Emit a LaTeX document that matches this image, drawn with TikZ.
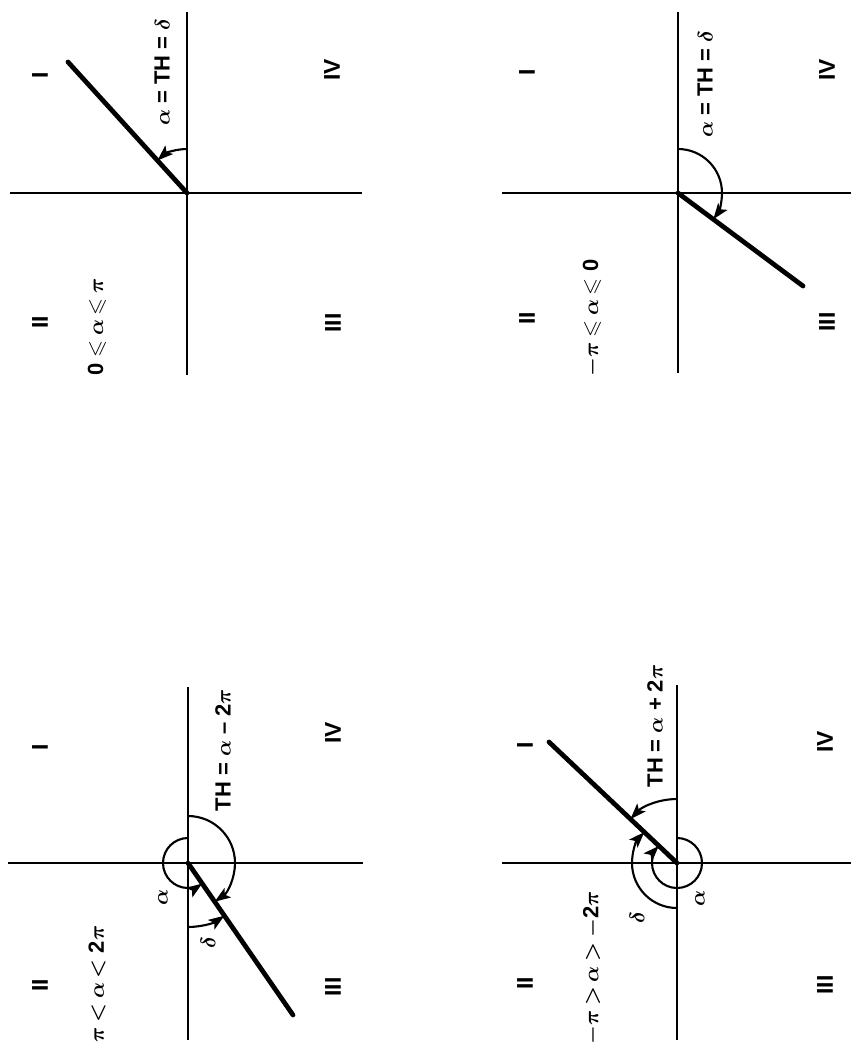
\documentclass[tikz,border=0pt]{standalone}
\usepackage{amsmath, amssymb}
\usepackage{fontspec}
\setsansfont{Liberation Sans}
\usetikzlibrary{arrows.meta}

\begin{document}
\begin{tikzpicture}[x=0.02cm, y=0.02cm,
      ax/.style={line width=1.5pt},
      ray/.style={line width=2.7pt, line cap=round},
      ang/.style={line width=1.2pt, -{Stealth[length=9pt, width=6.5pt, inset=2pt]}},
      qn/.style={rotate=90, font=\sffamily\bfseries\fontsize{13}{15}\selectfont},
      lb/.style={rotate=90, inner sep=1pt, font=\sffamily\bfseries\boldmath\fontsize{12.5}{14}\selectfont,
                 execute at begin node={\thickmuskip=3.5mu\relax}}]
    \useasboundingbox (0,0) rectangle (851,-1046);
    \coordinate (oa) at (187,-193);
    \coordinate (ob) at (678,-193);
    \coordinate (oc) at (188,-863);
    \coordinate (od) at (677,-863);
    % panel a
    \draw[ax] (oa) ++(-177,0) -- ++(352,0);
    \draw[ax] (oa) ++(0,181) -- ++(0,-363);
    \draw[ray] (oa) -- ++(-119,131);
    \draw[ang] (oa) ++(90:44) arc[start angle=90, end angle=132.2, radius=44];
    \node[qn] (a1) at (40,-75)   {I};
    \node[qn] (a2) at (40,-322)  {II};
    \node[qn] (a3) at (333,-323) {III};
    \node[qn] (a4) at (332,-70)  {IV};
    \node[lb] (ath) at (162,-72)  {$\alpha$ = TH = $\delta$};
    \node[lb] (arg) at (97,-327)  {0 $\leqslant \alpha \leqslant \pi$};
    % panel b
    \draw[ax] (ob) ++(-176,0) -- ++(350,0);
    \draw[ax] (ob) ++(0,181) -- ++(0,-361);
    \draw[ray] (ob) -- ++(125,-93);
    \draw[ang] (ob) ++(90:44) arc[start angle=90, end angle=-36.6, radius=44];
    \node[qn] (b1) at (527,-72)  {I};
    \node[qn] (b2) at (527,-318) {II};
    \node[qn] (b3) at (827,-322) {III};
    \node[qn] (b4) at (827,-70)  {IV};
    \node[lb] (bth) at (705,-84)  {$\alpha$ = TH = $\delta$};
    \node[lb] (brg) at (592,-318) {$-\pi \leqslant \alpha \leqslant$ 0};
    % panel c
    \draw[ax] (oc) ++(-180,0) -- ++(355,0);
    \draw[ax] (oc) ++(0,176) -- ++(0,-353);
    \draw[ray] (oc) -- ++(105,-152);
    \draw[ang] (oc) ++(90:25) arc[start angle=90, end angle=304.6, radius=25];
    \draw[ang] (oc) ++(90:47) arc[start angle=90, end angle=-55.4, radius=47];
    \draw[ang] (oc) ++(-90:64) arc[start angle=-90, end angle=-55.4, radius=64];
    \node[qn] (c1) at (40,-747)  {I};
    \node[qn] (c2) at (40,-985)  {II};
    \node[qn] (c3) at (333,-987) {III};
    \node[qn] (c4) at (333,-733) {IV};
    \node[lb] (cth) at (223,-750) {TH = $\alpha$ -- 2$\pi$};
    \node[lb] (crg) at (97,-984)  {$\pi < \alpha <$ 2$\pi$};
    \node[lb] (cal) at (163,-897) {$\alpha$};
    \node[lb] (cde) at (208,-943) {$\delta$};
    % panel d
    \draw[ax] (od) ++(-175,0) -- ++(349,0);
    \draw[ax] (od) ++(0,178) -- ++(0,-355);
    \draw[ray] (od) -- ++(-128,121);
    \draw[ang] (od) ++(90:64) arc[start angle=90, end angle=136.6, radius=64];
    \draw[ang] (od) ++(90:25) arc[start angle=90, end angle=-223.4, radius=25];
    \draw[ang] (od) ++(-90:45) arc[start angle=-90, end angle=-223.4, radius=45];
    \node[qn] (d1) at (525,-745) {I};
    \node[qn] (d2) at (525,-983) {II};
    \node[qn] (d3) at (825,-985) {III};
    \node[qn] (d4) at (825,-742) {IV};
    \node[lb] (dth) at (655,-726) {TH = $\alpha$ + 2$\pi$};
    \node[lb] (drg) at (592,-968) {$-\pi > \alpha > -$2$\pi$};
    \node[lb] (dal) at (700,-898) {$\alpha$};
    \node[lb] (dde) at (637,-918) {$\delta$};
\end{tikzpicture}
\end{document}
